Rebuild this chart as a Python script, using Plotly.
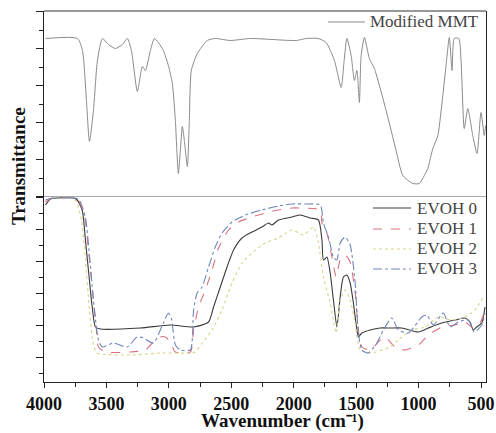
import plotly.graph_objects as go

# ---- Data (wavenumber in cm^-1, transmittance in arbitrary units) ----
mmt_wn = [3988, 3732, 3692, 3660, 3636, 3604, 3572, 3532, 3484, 3428,
          3372, 3332, 3300, 3252, 3212, 3188, 3148, 3116, 3084, 3044,
          3004, 2972, 2948, 2924, 2908, 2892, 2876, 2852, 2836, 2820,
          2772, 2692, 2628, 2508, 2348, 1980, 1900, 1804, 1740, 1674,
          1620, 1596, 1574, 1540, 1514, 1494, 1474, 1460, 1434, 1394,
          1354, 1260, 1180, 1126, 1046, 994, 954, 926, 886, 846,
          806, 780, 754, 732, 714, 678, 660, 634, 606, 566,
          532, 500, 474, 464]
mmt_t = [158, 158, 146, 96, 55, 86, 136, 158, 152, 148,
         152, 158, 146, 105, 130, 126, 146, 158, 154, 146,
         131, 113, 76, 23, 46, 70, 56, 30, 76, 126,
         143, 156, 158, 156, 158, 156, 158, 158, 154, 136,
         109, 136, 158, 141, 116, 126, 94, 141, 159, 138,
         128, 86, 46, 21, 13, 13, 21, 28, 48, 61,
         101, 131, 159, 126, 158, 158, 136, 68, 88, 61,
         43, 84, 61, 71]

evoh0_wn = [3988, 3948, 3894, 3762, 3734, 3694, 3668, 3642, 3614, 3588,
            3548, 3228, 2988, 2802, 2682, 2642, 2588, 2534, 2482, 2414,
            2334, 2254, 2202, 2174, 2122, 2014, 1948, 1868, 1802, 1774,
            1762, 1734, 1708, 1682, 1654, 1628, 1602, 1574, 1548, 1522,
            1494, 1482, 1454, 1388, 1308, 1228, 1134, 1002, 922, 814,
            708, 628, 588, 562, 534, 494, 468]
evoh0_t = [177, 183, 184, 184, 182, 172, 142, 109, 75, 55,
           53, 54, 57, 55, 60, 75, 95, 115, 132, 144,
           150, 155, 159, 157, 162, 165, 167, 164, 162, 142,
           122, 125, 109, 82, 55, 85, 105, 107, 99, 79,
           52, 45, 49, 52, 54, 54, 54, 50, 54, 59,
           62, 64, 60, 52, 55, 59, 75]

evoh1_wn = [3988, 3932, 3884, 3756, 3724, 3676, 3644, 3612, 3580, 3564,
            3508, 3308, 3188, 3148, 3068, 3028, 2988, 2948, 2828, 2802,
            2762, 2708, 2654, 2602, 2522, 2442, 2334, 2228, 2122, 2014,
            1948, 1788, 1774, 1734, 1694, 1660, 1628, 1588, 1548, 1508,
            1482, 1454, 1388, 1308, 1268, 1188, 1108, 1002, 922, 814,
            708, 628, 562, 508, 468]
evoh1_t = [180, 184, 184, 184, 182, 167, 132, 92, 52, 35,
           30, 30, 32, 37, 45, 45, 40, 30, 30, 52,
           75, 92, 112, 134, 152, 160, 165, 169, 172, 174,
           174, 172, 159, 149, 125, 105, 122, 127, 120, 89,
           52, 35, 32, 42, 45, 35, 32, 37, 47, 55,
           57, 60, 54, 59, 72]

evoh2_wn = [3988, 3932, 3884, 3772, 3740, 3700, 3668, 3636, 3604, 3574,
            3308, 3068, 2828, 2788, 2734, 2654, 2574, 2494, 2414, 2308,
            2228, 2122, 2014, 1922, 1842, 1802, 1762, 1708, 1660, 1628,
            1588, 1548, 1508, 1468, 1388, 1228, 1164, 1054, 948, 842,
            734, 628, 548, 482]
evoh2_t = [182, 184, 184, 184, 180, 162, 122, 72, 37, 29,
           27, 29, 29, 30, 39, 52, 72, 99, 119, 132,
           139, 144, 152, 147, 155, 139, 105, 79, 49, 82,
           92, 82, 59, 32, 29, 35, 42, 52, 55, 65,
           62, 65, 72, 85]

evoh3_wn = [3988, 3932, 3884, 3756, 3716, 3668, 3636, 3604, 3564, 3534,
            3444, 3334, 3254, 3204, 3124, 3044, 3004, 2980, 2948, 2908,
            2828, 2802, 2774, 2734, 2682, 2628, 2574, 2494, 2388, 2254,
            2122, 2014, 1908, 1788, 1762, 1722, 1682, 1654, 1628, 1588,
            1548, 1508, 1482, 1454, 1402, 1334, 1282, 1214, 1162, 1082,
            974, 934, 882, 802, 748, 682, 602, 554, 494, 468]
evoh3_t = [182, 184, 184, 184, 182, 164, 127, 82, 42, 35,
           39, 35, 45, 44, 39, 59, 69, 64, 37, 32,
           32, 72, 89, 95, 115, 135, 149, 160, 167, 172,
           176, 178, 178, 177, 159, 145, 125, 122, 139, 145,
           137, 99, 49, 32, 29, 39, 52, 64, 52, 49,
           65, 67, 57, 69, 55, 60, 62, 50, 57, 69]

x_ticks = [4000, 3500, 3000, 2500, 2000, 1500, 1000, 500]

SERIF = "Liberation Serif"

fig = go.Figure()

fig.add_trace(go.Scatter(x=mmt_wn, y=mmt_t, name="Modified MMT", mode="lines",
                         xaxis="x", yaxis="y2",
                         line=dict(color="#8a8a8a", width=1, shape="spline", smoothing=0.6)))

series = [
    ("EVOH 0", evoh0_wn, evoh0_t, "#3a3a3a", "solid"),
    ("EVOH 1", evoh1_wn, evoh1_t, "#d9727c", "dash"),
    ("EVOH 2", evoh2_wn, evoh2_t, "#d8d48a", "dot"),
    ("EVOH 3", evoh3_wn, evoh3_t, "#6f86b8", "dashdot"),
]
for name, wx, ty, col, dash in series:
    fig.add_trace(go.Scatter(x=wx, y=ty, name=name, mode="lines",
                             xaxis="x", yaxis="y",
                             line=dict(color=col, width=1.1, dash=dash,
                                       shape="spline", smoothing=0.6)))

# ---- Legend drawn as line samples + labels (compact spacing as in the reference) ----
legend_font = dict(family=SERIF, size=17, color="#444")
shapes = [
    dict(type="line", xref="paper", yref="paper", x0=0, x1=1, y0=1, y1=1,
         line=dict(color="#333", width=1.2)),
    dict(type="line", xref="paper", yref="paper", x0=0, x1=1, y0=0.5, y1=0.5,
         line=dict(color="#aaaaaa", width=1)),
    dict(type="line", xref="paper", yref="paper", x0=0.6425, x1=0.7262,
         y0=0.9704, y1=0.9704, line=dict(color="#8a8a8a", width=1)),
]
annotations = [
    dict(text="Modified MMT", xref="paper", yref="paper", x=0.733, y=0.9704,
         xanchor="left", yanchor="middle", showarrow=False, font=legend_font),
]
leg_y = [0.469, 0.4124, 0.3585, 0.3046]
for (name, _, _, col, dash), ly in zip(series, leg_y):
    shapes.append(dict(type="line", xref="paper", yref="paper", x0=0.7443, x1=0.8303,
                       y0=ly, y1=ly, line=dict(color=col, width=1.1, dash=dash)))
    annotations.append(dict(text=name, xref="paper", yref="paper", x=0.8394, y=ly,
                            xanchor="left", yanchor="middle", showarrow=False,
                            font=legend_font))

annotations += [
    dict(text="<b>Transmittance</b>", xref="paper", yref="paper",
         x=-0.0588, y=0.582, xanchor="center", yanchor="middle", textangle=-90,
         showarrow=False, font=dict(family=SERIF, size=19, color="#111")),
    dict(text="<b>Wavenumber (cm\u207b\u00b9)</b>", xref="paper", yref="paper",
         x=0.5407, y=-0.106, xanchor="center", yanchor="middle",
         showarrow=False, font=dict(family=SERIF, size=19, color="#111")),
]

fig.update_layout(
    width=496, height=433,
    margin=dict(l=44, r=10, t=11, b=51, autoexpand=False),
    paper_bgcolor="white", plot_bgcolor="white",
    showlegend=False,
    font=dict(family=SERIF),
    xaxis=dict(domain=[0, 1], range=[4000, 460], anchor="y",
               tickmode="array", tickvals=x_ticks,
               ticktext=["<b>%d</b>" % v for v in x_ticks],
               ticks="outside", ticklen=5, tickcolor="#222", tickwidth=1,
               minor=dict(dtick=250, tick0=250, ticks="outside", ticklen=4, tickcolor="#222"),
               showline=True, linecolor="#222", linewidth=1.2,
               showgrid=False, zeroline=False,
               tickfont=dict(family=SERIF, size=18, color="#111")),
    yaxis=dict(domain=[0, 0.5], range=[0, 185.5], anchor="x",
               showticklabels=False, ticks="outside", tick0=25, dtick=32,
               ticklen=7, tickcolor="#222",
               minor=dict(tick0=9, dtick=16, ticks="outside", ticklen=4, tickcolor="#222"),
               showline=True, linecolor="#222", linewidth=1.2, mirror=True,
               showgrid=False, zeroline=False),
    yaxis2=dict(domain=[0.5, 1], range=[0, 185.5], anchor="x",
                showticklabels=False, ticks="outside", tick0=0, dtick=37,
                ticklen=7, tickcolor="#222",
                minor=dict(tick0=0, dtick=18.5, ticks="outside", ticklen=4, tickcolor="#222"),
                showline=True, linecolor="#222", linewidth=1.2, mirror=True,
                showgrid=False, zeroline=False),
    shapes=shapes,
    annotations=annotations,
)

# remove the page's default 8px body margin so the 496x433 figure fills the window exactly
fig.write_html("out.html",
               config={"displayModeBar": False},
               post_script="document.body.style.margin='0';document.body.style.overflow='hidden';")
